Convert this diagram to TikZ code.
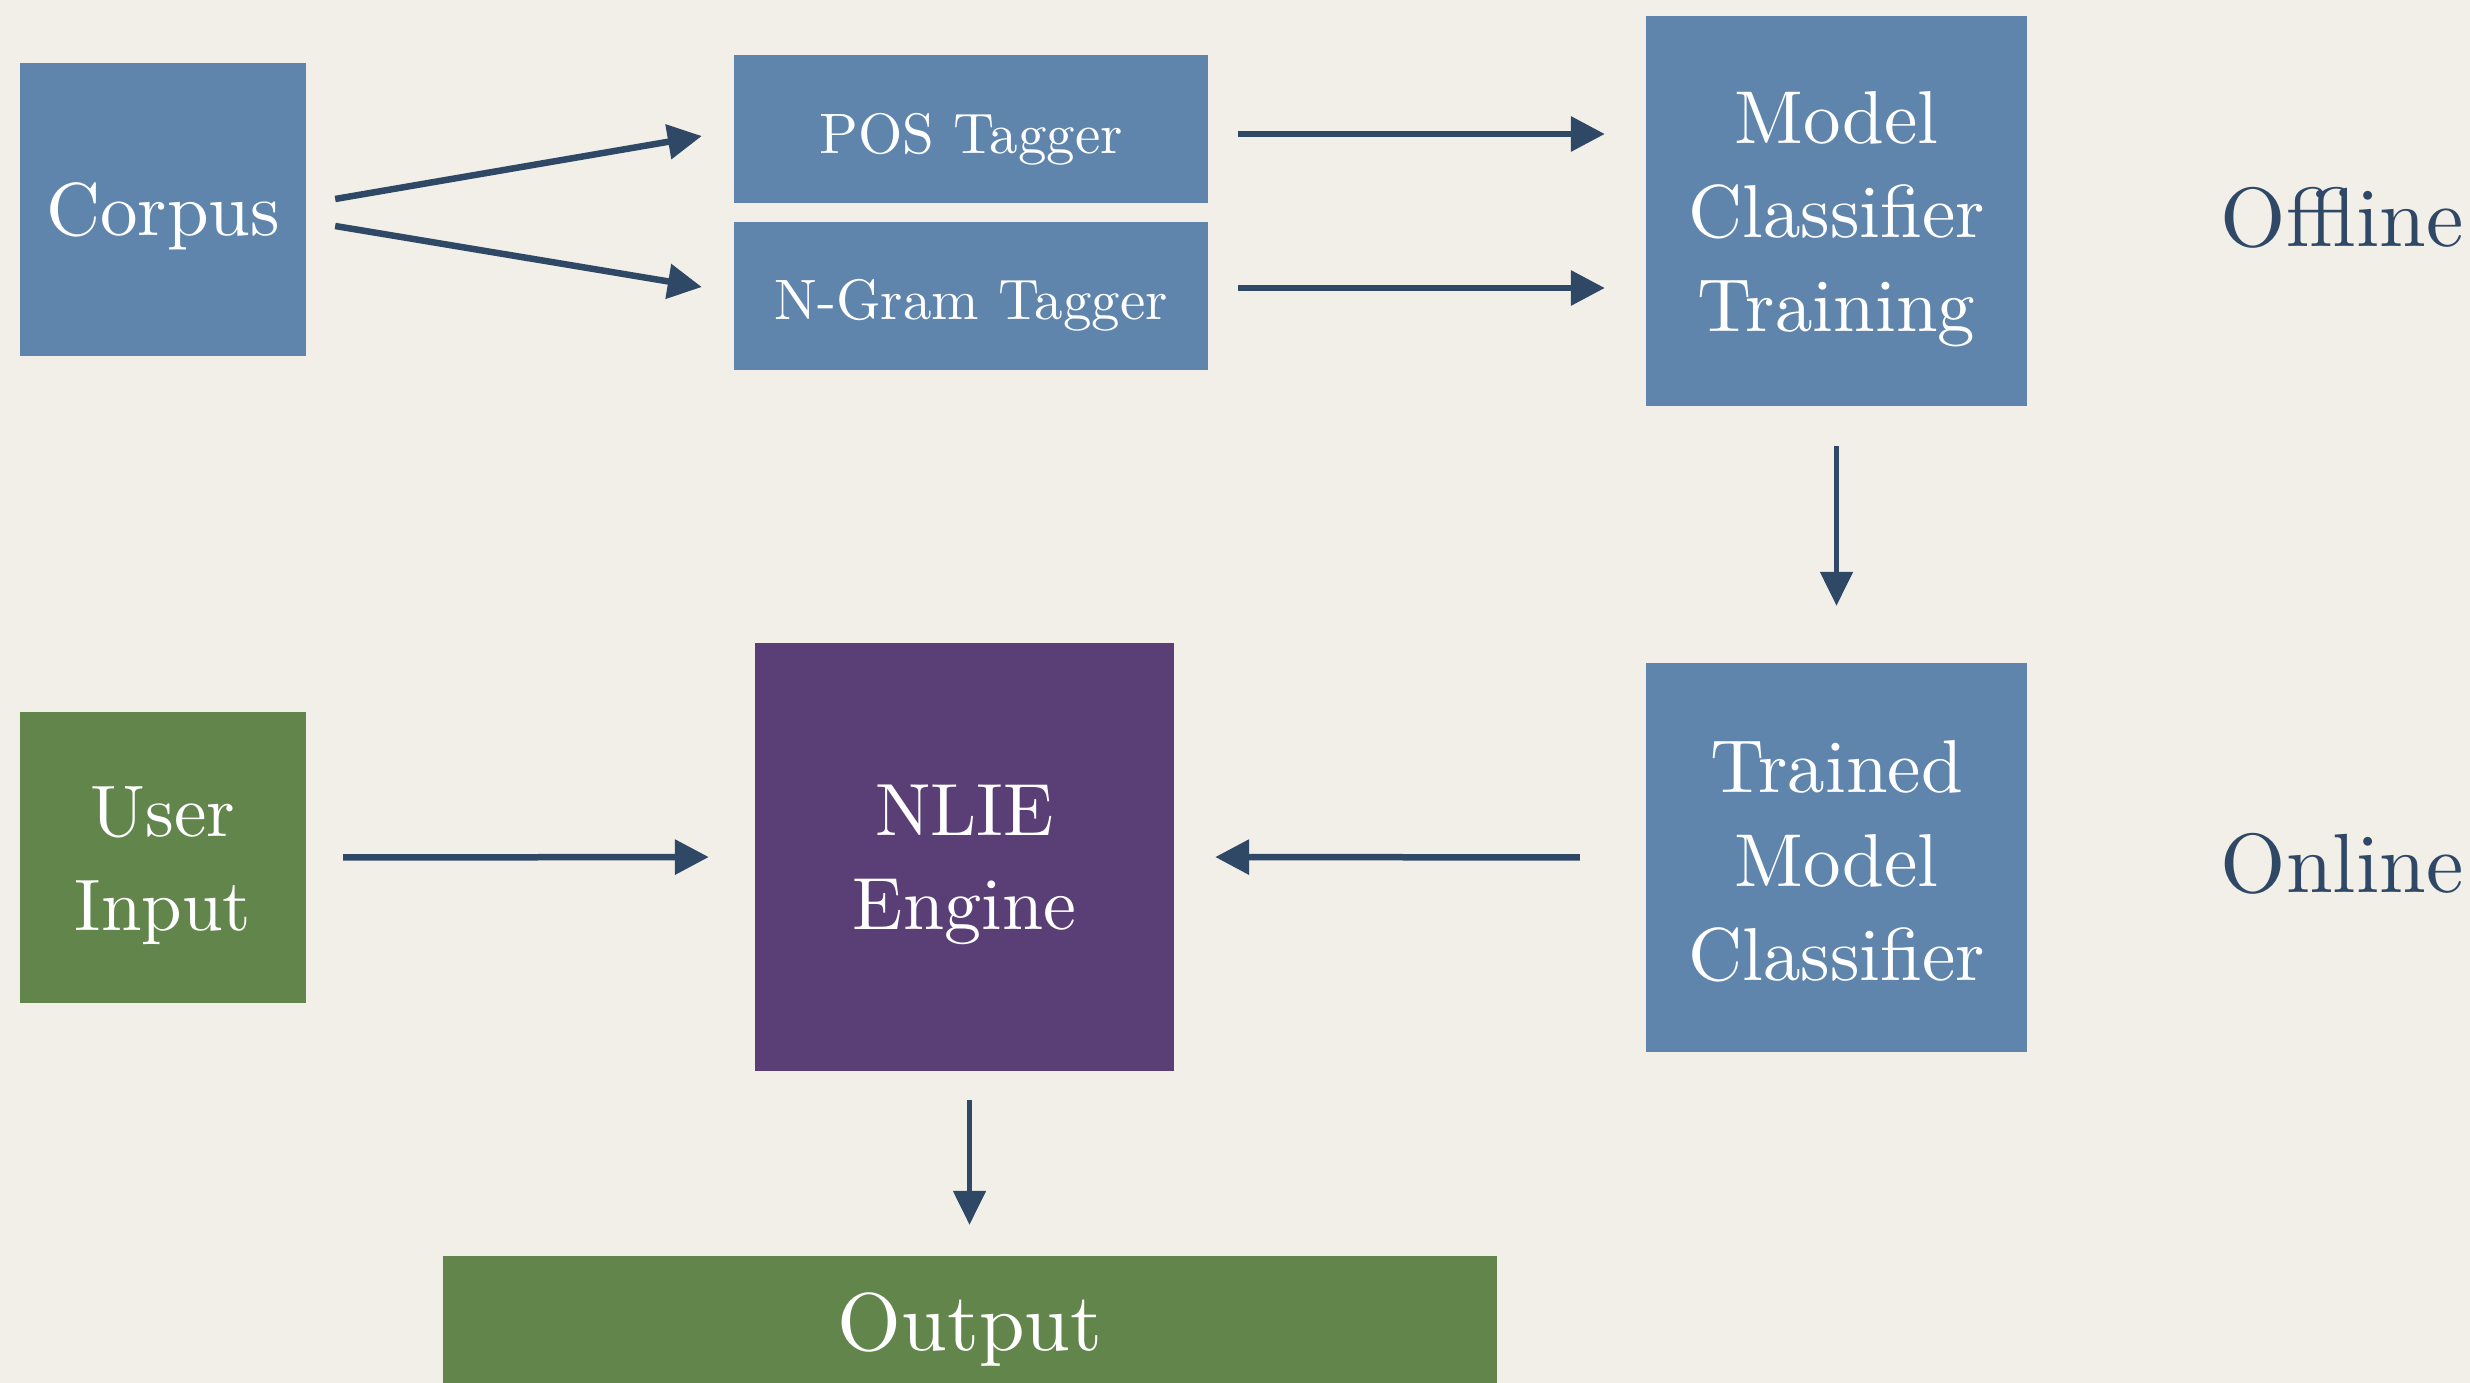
\documentclass[tikz,border=0pt]{standalone}
\usepackage{fontspec}
\setmainfont{lmroman10-regular.otf}
\usetikzlibrary{arrows.meta,calc}
\definecolor{bgpaper}{HTML}{F2EFE9}
\definecolor{boxblue}{HTML}{5F85AD}
\definecolor{boxgreen}{HTML}{62854C}
\definecolor{boxpurple}{HTML}{5A3F76}
\definecolor{ink}{HTML}{2E4866}
\begin{document}
\begin{tikzpicture}[x=1pt,y=-1pt,
  box/.style={rectangle, inner sep=0pt},
  boxtext/.style={text=white, align=center, font=\fontsize{75}{94}\selectfont},
  tagtext/.style={boxtext, font=\fontsize{57}{70}\selectfont},
  phase/.style={text=ink, font=\fontsize{84}{100}\selectfont},
  arr/.style={draw=ink, line width=6.5pt, -{Triangle[length=34pt,width=34pt]}},
  thinarr/.style={draw=ink, line width=5pt, -{Triangle[length=34pt,width=32pt]}}]

% paper background and page size
\fill[bgpaper] (0,0) rectangle (2470,1383);
\useasboundingbox (0,0) rectangle (2470,1383);

% offline stage
\node[box, fill=boxblue, minimum width=286, minimum height=293,
  label={[boxtext, yshift=-7pt]center:Corpus}] (corpus) at (163,209.5) {};
\node[box, fill=boxblue, minimum width=474, minimum height=148,
  label={[tagtext, yshift=-10pt]center:POS Tagger}] (pos) at (971,129) {};
\node[box, fill=boxblue, minimum width=474, minimum height=148,
  label={[tagtext, yshift=-9pt]center:N-Gram Tagger}] (ngram) at (971,296) {};
\node[box, fill=boxblue, minimum width=381, minimum height=390,
  label={[boxtext, yshift=-8pt]center:{Model\\Classifier\\Training}}] (model) at (1836.5,211) {};
\node[phase] (offline) at (2342,218) {Offline};

% online stage
\node[box, fill=boxgreen, minimum width=286, minimum height=291,
  label={[boxtext, font=\fontsize{73}{94}\selectfont, yshift=-8pt]center:{User\\Input}}] (user) at (163,857.5) {};
\node[box, fill=boxpurple, minimum width=419, minimum height=428,
  label={[boxtext, font=\fontsize{74}{94}\selectfont, yshift=-8pt]center:{NLIE\\Engine}}] (nlie) at (964.5,857) {};
\node[box, fill=boxblue, minimum width=381, minimum height=389,
  label={[boxtext, yshift=-4pt]center:{Trained\\Model\\Classifier}}] (trained) at (1836.5,857.5) {};
\node[phase] (online) at (2342,864) {Online};
\node[box, fill=boxgreen, minimum width=1054, minimum height=138,
  label={[boxtext, font=\fontsize{82}{96}\selectfont, yshift=-5pt]center:Output}] (output) at (970,1325) {};

% connectors
\draw[arr] ($(corpus.east)+(29,-10.5)$) -- ($(pos.west)+(-32,7)$);
\draw[arr] ($(corpus.east)+(29,16.5)$) -- ($(ngram.west)+(-32,-9)$);
\draw[arr, shorten <=30pt, shorten >=41pt] ($(pos.east)+(0,5)$) -- ($(pos.east -| model.west)+(0,5)$);
\draw[arr, shorten <=30pt, shorten >=41pt] ($(ngram.east)+(0,-8)$) -- ($(ngram.east -| model.west)+(0,-8)$);
\draw[thinarr, shorten <=40pt, shorten >=57pt] (model.south) -- (trained.north);
\draw[arr, shorten <=66pt, shorten >=41pt] (trained.west) -- (nlie.east);
\draw[arr, shorten <=37pt, shorten >=46pt] (user.east) -- (nlie.west);
\draw[thinarr, shorten <=29pt, shorten >=31pt] ($(nlie.south)+(5,0)$) -- ($(nlie.south |- output.north)+(5,0)$);
\end{tikzpicture}
\end{document}
